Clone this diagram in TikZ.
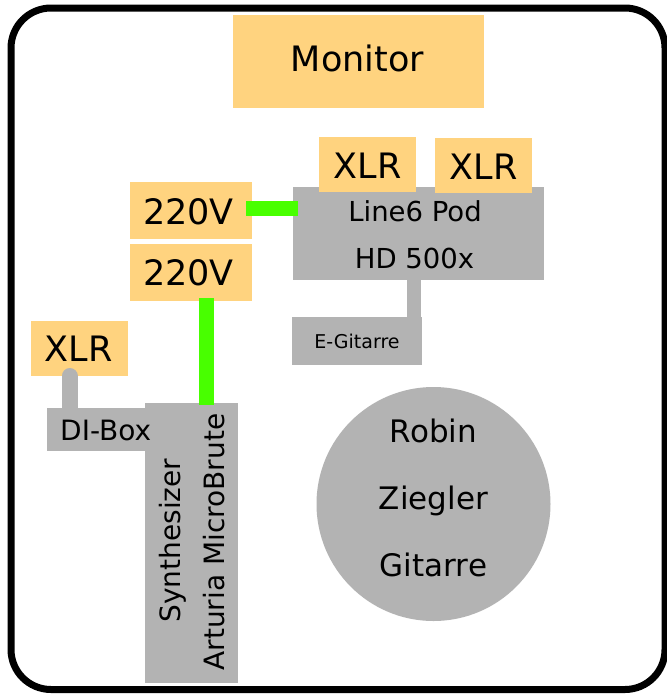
\documentclass[tikz,border=0pt]{standalone}
\usepackage{fontspec}
\setmainfont{DejaVu Sans}
\definecolor{boxorange}{RGB}{255,211,127}
\definecolor{boxgray}{RGB}{179,179,179}
\definecolor{cablegreen}{RGB}{72,255,0}
\tikzset{
  obox/.style={fill=boxorange, draw=none, inner sep=0pt, outer sep=0pt, anchor=north west},
  gbox/.style={fill=boxgray, draw=none, inner sep=0pt, outer sep=0pt, anchor=north west},
  txt/.style={inner sep=0pt, outer sep=0pt, anchor=base},
  greencable/.style={draw=cablegreen, line width=15pt},
  graycable/.style={draw=boxgray, line width=15pt},
  frame/.style={draw=black, line width=7pt, rounded corners=40pt},
}
\newcommand{\fs}[1]{\fontsize{#1}{#1}\selectfont}
\begin{document}
\begin{tikzpicture}[x=1pt,y=-1pt]
\useasboundingbox (0,0) rectangle (667,694);
\fill[white] (0,0) rectangle (667,694);
% frame
\draw[frame] (11,8) rectangle (665,689.5);
% monitor
\node[obox, minimum width=251pt, minimum height=93pt] (mon) at (233,15) {};
\node[txt, font=\fs{35}] (monT) at (357.5,71.7) {Monitor};
% Line6 pod
\node[gbox, minimum width=251pt, minimum height=93pt] (pod) at (293,187) {};
\node[txt, font=\fs{27.5}] (podT1) at (415,221.7) {Line6 Pod};
\node[txt, font=\fs{27.5}] (podT2) at (414.5,268) {HD 500x};
% XLR on pod
\node[obox, minimum width=97pt, minimum height=55pt] (xlrA) at (319,137) {};
\node[txt, font=\fs{35}] (xlrAT) at (367.5,178) {XLR};
\node[obox, minimum width=97pt, minimum height=55pt] (xlrB) at (435,138) {};
\node[txt, font=\fs{35}] (xlrBT) at (483.5,179) {XLR};
% E-Gitarre
\node[gbox, minimum width=130pt, minimum height=48pt] (egit) at (292,317) {};
\node[txt, font=\fs{19}] (egitT) at (357,348.3) {E-Gitarre};
\draw[graycable, line width=14pt] ([xshift=-4.5pt]pod.south) -- ([xshift=-4.5pt]pod.south |- egit.north);
% 220V
\node[obox, minimum width=122pt, minimum height=57pt] (vA) at (130,182) {};
\node[txt, font=\fs{35}] (vAT) at (188.5,224) {220V};
\node[obox, minimum width=122pt, minimum height=57pt] (vB) at (130,244) {};
\node[txt, font=\fs{35}] (vBT) at (188.5,285.7) {220V};
% XLR left
\node[obox, minimum width=97pt, minimum height=55pt] (xlrC) at (31,321) {};
\node[txt, font=\fs{35}] (xlrCT) at (78.5,361.7) {XLR};
% Synth
\node[gbox, minimum width=93pt, minimum height=280pt] (syn) at (145,403) {};
\node[txt, font=\fs{28}, rotate=90] (synT1) at (180,540.5) {Synthesizer};
\node[txt, font=\fs{28}, rotate=90] (synT2) at (224.5,542) {Arturia MicroBrute};
% DI-Box
\node[gbox, minimum width=117pt, minimum height=43pt] (di) at (47,408) {};
\node[txt, font=\fs{28}] (diT) at (105.7,440) {DI-Box};
\draw[graycable, line width=16pt, line cap=round] ([xshift=-10pt]xlrC.south) -- ([xshift=-36pt]di.north);
% green cables
\draw[greencable] ([xshift=-6pt,yshift=2pt]vA.east) -- ([xshift=5pt,yshift=2pt]vA.east -| pod.west);
\draw[greencable] ([xshift=15.5pt,yshift=3pt]vB.south) -- ([xshift=15.5pt,yshift=-2pt]vB.south |- syn.north);
% Robin circle
\node[circle, fill=boxgray, draw=none, inner sep=0pt, minimum size=234pt] (robin) at (433.5,504) {};
\node[txt, font=\fs{31}] (rT1) at (433.5,442) {Robin};
\node[txt, font=\fs{31}] (rT2) at (433.5,509.3) {Ziegler};
\node[txt, font=\fs{31}] (rT3) at (433.5,576.7) {Gitarre};
\end{tikzpicture}
\end{document}
